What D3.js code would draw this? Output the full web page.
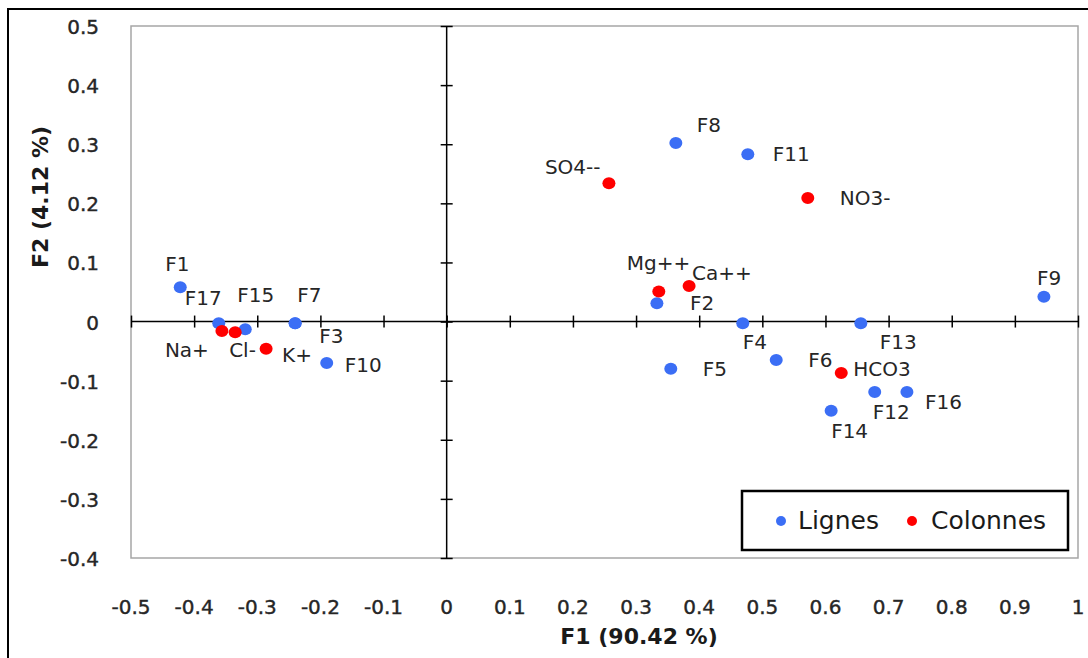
<!DOCTYPE html>
<html>
<head>
<meta charset="utf-8">
<script src="https://cdn.jsdelivr.net/npm/d3@7"></script>
<style>
  html, body { margin: 0; padding: 0; background: #fff; }
  svg { display: block; }
  text { font-family: "DejaVu Sans", Verdana, sans-serif; }
</style>
</head>
<body>
<svg id="chart" width="1088" height="658"></svg>
<script>
// ---- Data ----
const rowNames = ["F1","F2","F3","F4","F5","F6","F7","F8","F9","F10","F11","F12","F13","F14","F15","F16","F17"];
const rowF1 = [-0.422, 0.333, -0.240, 0.469, 0.355, 0.522, -0.240, 0.363, 0.946, -0.190, 0.477, 0.678, 0.656, 0.609, -0.319, 0.729, -0.361];
const rowF2 = [0.058, 0.031, -0.003, -0.003, -0.080, -0.065, -0.003, 0.302, 0.042, -0.070, 0.283, -0.119, -0.003, -0.151, -0.013, -0.119, -0.003];

const colNames = ["Na+","Cl-","K+","SO4--","NO3-","Mg++","Ca++","HCO3"];
const colF1 = [-0.356, -0.335, -0.286, 0.257, 0.572, 0.336, 0.384, 0.625];
const colF2 = [-0.016, -0.018, -0.046, 0.234, 0.209, 0.051, 0.060, -0.087];

const xTicks = [-0.5,-0.4,-0.3,-0.2,-0.1,0,0.1,0.2,0.3,0.4,0.5,0.6,0.7,0.8,0.9,1];
const yTicks = [0.5,0.4,0.3,0.2,0.1,0,-0.1,-0.2,-0.3,-0.4];
const seriesNames = ["Lignes","Colonnes"];

// label placement offsets (pixels, left edge / vertical centre relative to point)
const rowLabelOffsets = [[-15,-23],[33,0],[24,13],[0,19],[32,0],[32,0],[2,-28],[21,-18],[-7,-19],[18,2],[25,0],[-2,20],[19,19],[0,20],[-8,-34],[18,10],[-34,-25]];
const colLabelOffsets = [[-57,19],[-6,18],[16,6],[-64,-16],[32,0],[-32,-28],[3,-13],[12,-4]];

// ---- Layout ----
const plot = {left: 131, right: 1078, top: 26, bottom: 558};
const blue = "#3b6ef5", red = "#ff0000";

const svg = d3.select("#chart");
const x = d3.scaleLinear().domain([-0.5, 1]).range([plot.left, plot.right]);
const y = d3.scaleLinear().domain([-0.4, 0.5]).range([plot.bottom, plot.top]);

// outer frame
svg.append("rect").attr("x", 8).attr("y", 9).attr("width", 1200).attr("height", 800)
  .attr("fill", "none").attr("stroke", "#000").attr("stroke-width", 2);

// plot area border
svg.append("rect").attr("x", plot.left).attr("y", plot.top)
  .attr("width", plot.right - plot.left).attr("height", plot.bottom - plot.top)
  .attr("fill", "none").attr("stroke", "#a6a6a6").attr("stroke-width", 1.5);

// axes through origin
const xAxis = d3.axisBottom(x).tickValues(xTicks).tickSizeInner(12).tickSizeOuter(0).tickFormat("");
const gx = svg.append("g").attr("transform", `translate(0,${y(0) - 6})`).call(xAxis);
gx.select(".domain").attr("d", `M${plot.left},6H${plot.right}`).attr("stroke", "#000").attr("stroke-width", 1.5);
gx.selectAll(".tick line").attr("stroke", "#000").attr("stroke-width", 1.5);

const yAxis = d3.axisRight(y).tickValues(yTicks).tickSizeInner(12).tickSizeOuter(0).tickFormat("");
const gy = svg.append("g").attr("transform", `translate(${x(0) - 6},0)`).call(yAxis);
gy.select(".domain").attr("d", `M6,${plot.top}V${plot.bottom}`).attr("stroke", "#000").attr("stroke-width", 1.5);
gy.selectAll(".tick line").attr("stroke", "#000").attr("stroke-width", 1.5);

// tick labels (ASCII hyphen minus, as in the reference)
const fmt = d => (d === 0 ? "0" : d === 1 ? "1" : d3.format(".1f")(d).replace("\u2212", "-"));
svg.append("g").selectAll("text").data(xTicks).join("text")
  .attr("x", d => x(d)).attr("y", 607)
  .attr("text-anchor", "middle").attr("dominant-baseline", "central")
  .attr("font-size", 20).attr("fill", "#262626")
  .attr("stroke", "#262626").attr("stroke-width", 0.4)
  .text(fmt);
svg.append("g").selectAll("text").data(yTicks).join("text")
  .attr("x", 99).attr("y", d => y(d) + 1)
  .attr("text-anchor", "end").attr("dominant-baseline", "central")
  .attr("font-size", 20).attr("fill", "#262626")
  .attr("stroke", "#262626").attr("stroke-width", 0.4)
  .text(fmt);

// axis titles
svg.append("text").attr("x", 639).attr("y", 636)
  .attr("text-anchor", "middle").attr("dominant-baseline", "central")
  .attr("font-size", 22).attr("font-weight", "bold").attr("fill", "#1a1a1a")
  .text("F1 (90.42 %)");
svg.append("text").attr("transform", "translate(40,197) rotate(-90)")
  .attr("text-anchor", "middle").attr("dominant-baseline", "central")
  .attr("font-size", 22).attr("font-weight", "bold").attr("fill", "#1a1a1a")
  .text("F2 (4.12 %)");

// points
const rows = rowNames.map((n, i) => ({name: n, f1: rowF1[i], f2: rowF2[i], off: rowLabelOffsets[i]}));
const cols = colNames.map((n, i) => ({name: n, f1: colF1[i], f2: colF2[i], off: colLabelOffsets[i]}));

svg.append("g").selectAll("ellipse").data(rows).join("ellipse")
  .attr("cx", d => x(d.f1)).attr("cy", d => y(d.f2)).attr("rx", 6.5).attr("ry", 6).attr("fill", blue);
svg.append("g").selectAll("ellipse").data(cols).join("ellipse")
  .attr("cx", d => x(d.f1)).attr("cy", d => y(d.f2)).attr("rx", 6.5).attr("ry", 6).attr("fill", red);

// data labels
svg.append("g").selectAll("text").data(rows.concat(cols)).join("text")
  .attr("x", d => x(d.f1) + d.off[0]).attr("y", d => y(d.f2) + d.off[1])
  .attr("dominant-baseline", "central").attr("font-size", 20).attr("fill", "#262626")
  .text(d => d.name);

// legend
const lg = svg.append("g");
lg.append("rect").attr("x", 742).attr("y", 491).attr("width", 326).attr("height", 59)
  .attr("fill", "#fff").attr("stroke", "#000").attr("stroke-width", 2.5);
const legendItems = [{name: seriesNames[0], color: blue, cx: 781, tx: 798}, {name: seriesNames[1], color: red, cx: 912, tx: 931}];
legendItems.forEach(it => {
  lg.append("circle").attr("cx", it.cx).attr("cy", 521).attr("r", 5).attr("fill", it.color);
  lg.append("text").attr("x", it.tx).attr("y", 520).attr("dominant-baseline", "central")
    .attr("font-size", 25).attr("fill", "#1a1a1a").text(it.name);
});
</script>
</body>
</html>
